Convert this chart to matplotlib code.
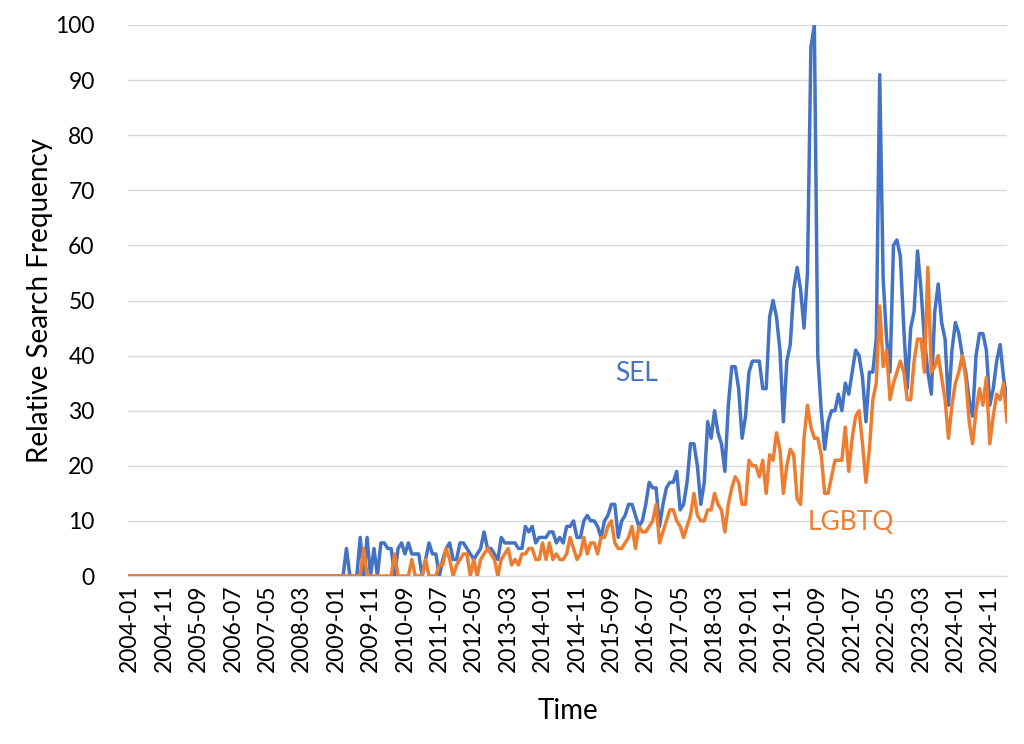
"""Relative search frequency for SEL and LGBTQ, monthly 2004-01 to 2025-04."""

import numpy as np
import pandas as pd
import matplotlib
matplotlib.use("Agg")
import matplotlib.pyplot as plt

plt.rcParams["font.family"] = ["Lato", "DejaVu Sans"]

# Monthly values, one row per year (2004 ... 2025-04)
sel = (
    [0] * 60
    + [0, 0, 0, 5, 0, 0, 0, 7, 0, 7, 0, 5]            # 2009
    + [0, 6, 6, 5, 5, 0, 5, 6, 4, 6, 4, 4]            # 2010
    + [4, 0, 3, 6, 4, 4, 0, 3, 5, 6, 3, 3]            # 2011
    + [6, 6, 5, 4, 3, 4, 5, 8, 5, 5, 4, 3]            # 2012
    + [7, 6, 6, 6, 6, 5, 5, 9, 8, 9, 6, 7]            # 2013
    + [7, 7, 8, 8, 6, 7, 6, 9, 9, 10, 7, 7]           # 2014
    + [10, 11, 10, 10, 9, 7, 10, 11, 13, 13, 7, 10]   # 2015
    + [11, 13, 13, 11, 9, 10, 13, 17, 16, 16, 9, 13]  # 2016
    + [16, 17, 17, 19, 12, 13, 17, 24, 24, 20, 13, 17]  # 2017
    + [28, 25, 30, 26, 24, 19, 31, 38, 38, 34, 25, 29]  # 2018
    + [37, 39, 39, 39, 34, 34, 47, 50, 47, 41, 28, 39]  # 2019
    + [42, 52, 56, 52, 45, 55, 96, 100, 40, 30, 23, 28]  # 2020
    + [30, 30, 33, 30, 35, 33, 37, 41, 40, 36, 28, 37]  # 2021
    + [37, 43, 91, 54, 43, 37, 60, 61, 58, 45, 34, 45]  # 2022
    + [48, 59, 52, 43, 37, 33, 48, 53, 46, 43, 31, 41]  # 2023
    + [46, 44, 40, 37, 32, 29, 40, 44, 44, 41, 31, 34]  # 2024
    + [39, 42, 36, 32]                                # 2025
)

lgbtq = (
    [0] * 60
    + [0, 0, 0, 0, 0, 0, 0, 0, 5, 0, 0, 0]            # 2009
    + [0, 0, 0, 0, 0, 4, 0, 0, 0, 0, 3, 0]            # 2010
    + [0, 0, 3, 0, 0, 0, 2, 2, 5, 3, 0, 2]            # 2011
    + [3, 4, 4, 0, 3, 0, 3, 4, 5, 4, 3, 0]            # 2012
    + [3, 4, 5, 2, 3, 2, 4, 4, 5, 5, 3, 3]            # 2013
    + [6, 3, 6, 3, 4, 3, 3, 4, 7, 5, 3, 4]            # 2014
    + [7, 4, 6, 6, 4, 7, 7, 9, 10, 6, 5, 5]           # 2015
    + [6, 7, 9, 5, 9, 8, 8, 9, 10, 13, 6, 8]          # 2016
    + [10, 12, 12, 10, 9, 7, 9, 11, 15, 11, 10, 10]   # 2017
    + [12, 12, 15, 13, 12, 8, 13, 16, 18, 17, 13, 13]  # 2018
    + [21, 20, 20, 18, 21, 15, 22, 21, 26, 23, 15, 20]  # 2019
    + [23, 22, 14, 13, 25, 31, 27, 25, 25, 22, 15, 15]  # 2020
    + [18, 21, 21, 21, 27, 19, 25, 29, 30, 24, 17, 23]  # 2021
    + [32, 35, 49, 38, 41, 32, 35, 37, 39, 37, 32, 32]  # 2022
    + [39, 43, 43, 37, 56, 37, 38, 40, 36, 32, 25, 31]  # 2023
    + [35, 37, 40, 36, 28, 24, 30, 34, 31, 36, 24, 29]  # 2024
    + [33, 32, 35, 28]                                # 2025
)

months = pd.period_range("2004-01", periods=len(sel), freq="M").strftime("%Y-%m")
tick_every = 10

BLUE = "#4472C4"
ORANGE = "#ED7D31"

fig = plt.figure(figsize=(10.24, 7.44), dpi=100)
ax = fig.add_axes([0.125, 0.2258, 0.8584, 0.7406])

x = np.arange(len(sel))
ax.plot(x, sel, color=BLUE, linewidth=2.5, zorder=3)
ax.plot(x, lgbtq, color=ORANGE, linewidth=2.5, zorder=3)

ax.set_xlim(-0.5, len(sel) - 1)
ax.set_ylim(0, 100)
ax.set_yticks(range(0, 101, 10))
ax.set_xticks(x[::tick_every])
ax.set_xticklabels(months[::tick_every], rotation=90)
ax.tick_params(axis="both", length=0, labelsize=16.5, colors="black")
ax.tick_params(axis="x", pad=6)
ax.tick_params(axis="y", pad=24)

ax.grid(axis="y", color="#D9D9D9", linewidth=1)
ax.set_axisbelow(True)
for side in ["top", "right", "left"]:
    ax.spines[side].set_visible(False)
ax.spines["bottom"].set_color("#D9D9D9")

ax.set_xlabel("Time", fontsize=20)
ax.set_ylabel("Relative Search Frequency", fontsize=20)
ax.xaxis.set_label_coords(0.5, -0.222)
ax.yaxis.set_label_coords(-0.085, 0.5)

ax.text(147.4, 36.8, "SEL", color=BLUE, fontsize=19, ha="center", va="center")
ax.text(209.5, 9.8, "LGBTQ", color=ORANGE, fontsize=19, ha="center", va="center")

fig.savefig("out.png", dpi=100)
plt.close(fig)
